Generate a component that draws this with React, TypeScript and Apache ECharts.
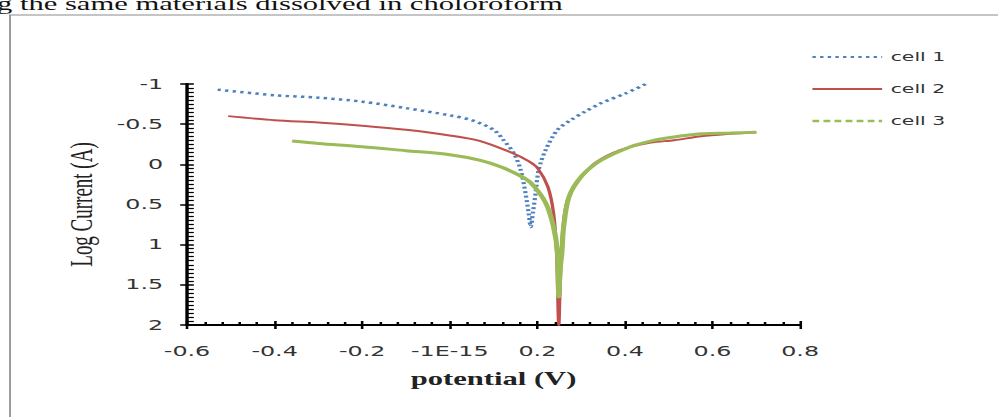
import React, { useEffect, useRef } from "react";
import * as echarts from "echarts";

const W = 587;
const H = 417;
const SX = 998 / W;

const seriesNames = ["cell 1", "cell 2", "cell 3"];
const seriesColors = ["#4F81BD", "#C0504D", "#9BBB59"];

const xTickLabels = ["-0.6", "-0.4", "-0.2", "-1E-15", "0.2", "0.4", "0.6", "0.8"];

const cell1Potential = [-0.53, -0.4, -0.3, -0.2, -0.1, 0.0, 0.05, 0.1, 0.123, 0.146, 0.162, 0.173, 0.18, 0.185, 0.19, 0.196, 0.203, 0.219, 0.246, 0.276, 0.31, 0.345, 0.4, 0.448];
const cell1Current = [-0.93, -0.86, -0.83, -0.78, -0.7, -0.61, -0.55, -0.43, -0.3, -0.14, 0.07, 0.36, 0.6, 0.78, 0.6, 0.36, 0.07, -0.18, -0.43, -0.55, -0.66, -0.76, -0.88, -1.0];

const cell2Potential = [-0.506, -0.4, -0.3, -0.2, -0.1, 0.0, 0.07, 0.139, 0.18, 0.201, 0.224, 0.237, 0.244, 0.249, 0.252, 0.258, 0.269, 0.295, 0.333, 0.391, 0.459, 0.512, 0.574, 0.64, 0.7];
const cell2Current = [-0.6, -0.55, -0.52, -0.48, -0.43, -0.36, -0.29, -0.15, -0.04, 0.05, 0.28, 0.61, 1.1, 2.0, 1.5, 0.82, 0.44, 0.2, -0.02, -0.18, -0.27, -0.3, -0.35, -0.38, -0.4];

const cell3Potential = [-0.36, -0.3, -0.2, -0.1, 0.0, 0.07, 0.116, 0.16, 0.185, 0.219, 0.237, 0.246, 0.249, 0.252, 0.256, 0.26, 0.272, 0.299, 0.345, 0.413, 0.459, 0.512, 0.574, 0.64, 0.7];
const cell3Current = [-0.29, -0.26, -0.22, -0.17, -0.12, -0.05, 0.03, 0.14, 0.23, 0.48, 0.78, 1.1, 1.65, 1.3, 1.1, 0.78, 0.41, 0.16, -0.05, -0.22, -0.29, -0.34, -0.38, -0.39, -0.4];

const zip = (xs: number[], ys: number[]) => xs.map((x, i) => [x, ys[i]]);

export default function App() {
  const ref = useRef<HTMLDivElement>(null);
  useEffect(() => {
    if (!ref.current) return;
    const chart = echarts.init(ref.current, null, { renderer: "svg" });
    const tickFont = { fontFamily: "DejaVu Sans", fontSize: 14, color: "#333" };
    const yBase = { type: "value", min: -1, max: 2, interval: 0.5, inverse: true, position: "left", splitLine: { show: false } };
    const xBase = { type: "value", min: -0.6, max: 0.8, interval: 0.2, position: "bottom", splitLine: { show: false } };
    chart.setOption({
      animation: false,
      backgroundColor: "#ffffff",
      grid: { left: 110, right: 116.4, top: 84, bottom: 92 },
      graphic: [
        {
          type: "rect",
          z: -10,
          shape: { x: 5.9, y: 15, width: 700, height: 500 },
          style: { fill: "none", stroke: "#8c8c8c", lineWidth: 1 },
        },
        {
          type: "text",
          x: 331,
          y: 4,
          style: {
            text: "using the same materials dissolved in choloroform",
            font: "18px 'Liberation Serif'",
            fill: "#111",
            align: "right",
            verticalAlign: "middle",
          },
        },
      ],
      legend: {
        orient: "vertical",
        left: 471.6,
        top: 46,
        itemWidth: 41,
        itemHeight: 14,
        itemGap: 20,
        itemStyle: { opacity: 0 },
        textStyle: { fontFamily: "DejaVu Sans", fontSize: 12, color: "#333" },
        data: [
          { name: seriesNames[0] },
          { name: seriesNames[1] },
          { name: seriesNames[2], lineStyle: { type: [4, 2.5], width: 2.5 } },
        ],
      },
      xAxis: [
        {
          ...xBase,
          name: "potential (V)",
          nameLocation: "middle",
          nameGap: 45,
          nameTextStyle: { fontFamily: "Liberation Serif", fontSize: 18, fontWeight: "bold", color: "#222" },
          axisLine: { show: true, onZero: false, lineStyle: { color: "#000", width: 2 } },
          axisTick: { show: true, inside: false, length: 4, lineStyle: { color: "#000", width: 1.5 } },
          axisLabel: {
            ...tickFont,
            margin: 19,
            formatter: (v: number) => xTickLabels[Math.round((v + 0.6) / 0.2)] ?? "",
          },
        },
        {
          ...xBase,
          axisLine: { show: false, onZero: false },
          axisTick: { show: true, inside: true, length: 4, lineStyle: { color: "#000", width: 1.5 } },
          minorTick: { show: true, splitNumber: 5, length: 3, lineStyle: { color: "#000", width: 1.5 } },
          axisLabel: { show: false },
        },
      ],
      yAxis: [
        {
          ...yBase,
          name: "Log Current (A)",
          nameLocation: "middle",
          nameGap: 53,
          nameTextStyle: { fontFamily: "Liberation Serif", fontSize: 19, color: "#222" },
          axisLine: { show: true, onZero: false, lineStyle: { color: "#000", width: 2 } },
          axisTick: { show: true, inside: false, length: 4, lineStyle: { color: "#000", width: 1.5 } },
          axisLabel: { ...tickFont, margin: 14 },
        },
        {
          ...yBase,
          axisLine: { show: false, onZero: false },
          axisTick: { show: true, inside: true, length: 4, lineStyle: { color: "#000", width: 1.5 } },
          minorTick: { show: true, splitNumber: 10, length: 4, lineStyle: { color: "#000", width: 1.2 } },
          axisLabel: { show: false },
        },
      ],
      series: [
        {
          name: seriesNames[0],
          type: "line",
          data: zip(cell1Potential, cell1Current),
          symbol: "none",
          smooth: 0.3,
          color: seriesColors[0],
          lineStyle: { color: seriesColors[0], width: 2.5, type: [2, 2.5] },
        },
        {
          name: seriesNames[1],
          type: "line",
          data: zip(cell2Potential, cell2Current),
          symbol: "none",
          smooth: 0.3,
          color: seriesColors[1],
          lineStyle: { color: seriesColors[1], width: 2 },
        },
        {
          name: seriesNames[2],
          type: "line",
          data: zip(cell3Potential, cell3Current),
          symbol: "none",
          smooth: 0.3,
          color: seriesColors[2],
          lineStyle: { color: seriesColors[2], width: 3 },
        },
      ],
    });
    return () => chart.dispose();
  }, []);
  return (
    <div
      style={{
        position: "fixed",
        left: 0,
        top: 0,
        width: W,
        height: H,
        transform: `scaleX(${SX})`,
        transformOrigin: "0 0",
        background: "#fff",
      }}
    >
      <div ref={ref} style={{ width: W, height: H }} />
    </div>
  );
}
